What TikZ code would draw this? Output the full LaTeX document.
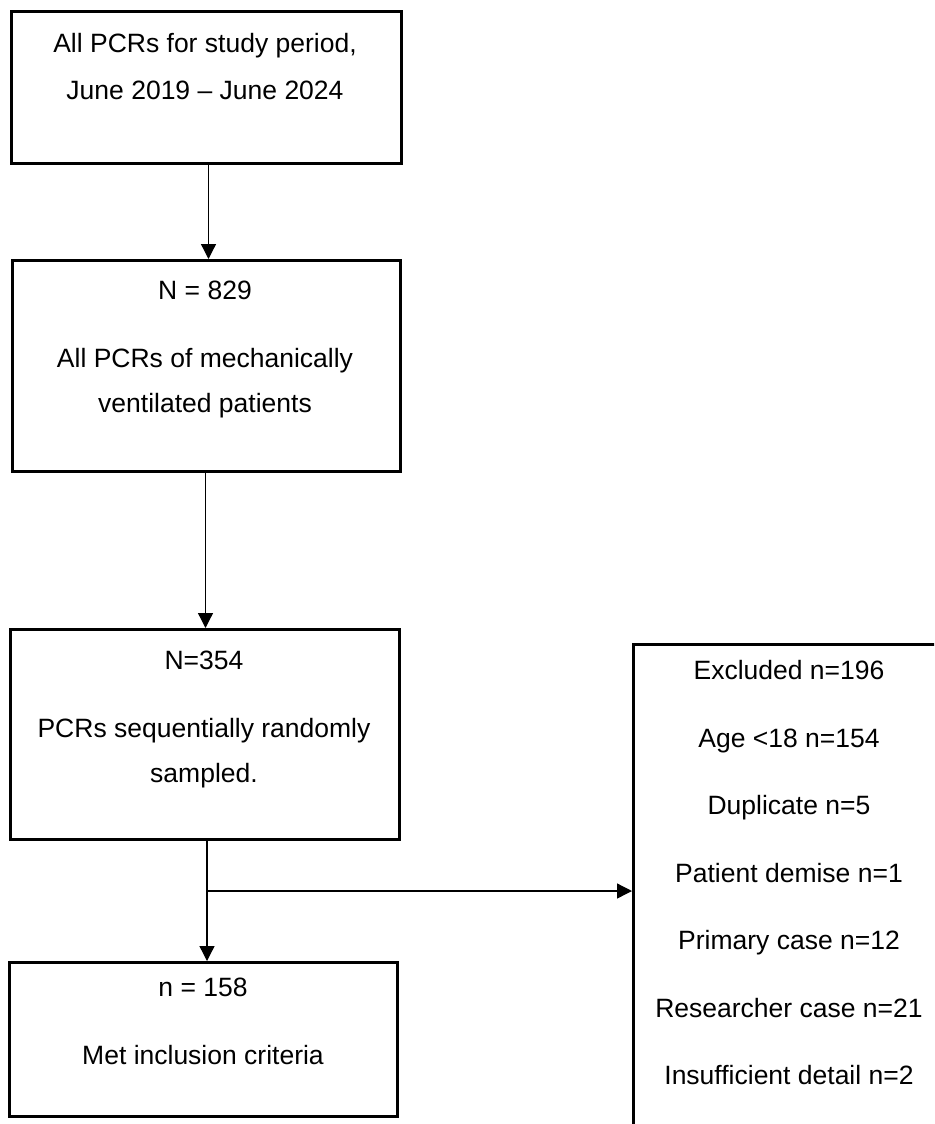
\documentclass[tikz,border=0pt]{standalone}
\usepackage{fontspec}
\setmainfont{Liberation Sans}
\usetikzlibrary{arrows.meta,positioning}
\tikzset{
    box/.style={draw, line width=1.5pt, inner sep=0pt, anchor=north west},
    txt/.style={font=\fontsize{13.25}{16}\selectfont, inner sep=0pt,
        text height=9.5pt, text depth=0pt},
    arr/.style={-{Triangle[width=7.5pt,length=7.5pt]}, line width=0.65pt}
}
\begin{document}
\begin{tikzpicture}[x=0.5pt, y=-0.5pt]
        \useasboundingbox (0,0) rectangle (934,1124);
        \clip (0,0) rectangle (934,1124);
        % boxes
        \node[box, minimum width=195pt, minimum height=76pt] (allpcr) at (10,10) {};
        \node[box, minimum width=194pt, minimum height=105.5pt] (vent) at (11,259) {};
        \node[box, minimum width=194.5pt, minimum height=105pt] (sampled) at (9,628) {};
        \node[box, minimum width=194pt, minimum height=77pt] (included) at (8,961) {};
        \node[box, minimum width=157pt, minimum height=260pt] (excluded) at (632,643) {};
        % box texts
        \begin{scope}[every node/.style={txt}]
            \node (allpcr1) at (205,43) {All PCRs for study period,};
            \node (allpcr2) at (205,90) {June 2019 – June 2024};
            \node (vent1) at (205,290) {N = 829};
            \node (vent2) at (205,358) {All PCRs of mechanically};
            \node (vent3) at (205,403) {ventilated patients};
            \node (sampled1) at (204,660) {N=354};
            \node (sampled2) at (204,728) {PCRs sequentially randomly};
            \node (sampled3) at (204,773) {sampled.};
            \node (included1) at (203,987) {n = 158};
            \node (included2) at (203,1055) {Met inclusion criteria};
            \foreach \t [count=\i] in {Excluded n=196, Age <18 n=154, Duplicate n=5,
                Patient demise n=1, Primary case n=12, Researcher case n=21,
                Insufficient detail n=2}
                \node (ex\i) at (789,{670+67.5*(\i-1)}) {\t};
        \end{scope}
        % connectors
        \coordinate (split) at (207,891);
        \draw[arr] ([xshift=1pt]allpcr.south) -- ([xshift=1pt]allpcr.south |- vent.north);
        \draw[arr] ([xshift=-0.5pt]vent.south) -- ([xshift=-0.5pt]vent.south |- sampled.north);
        \draw[arr] (sampled.south -| split) -- (included.north -| split);
        \draw[arr] (split) -- (split -| excluded.west);
    \end{tikzpicture}
\end{document}
